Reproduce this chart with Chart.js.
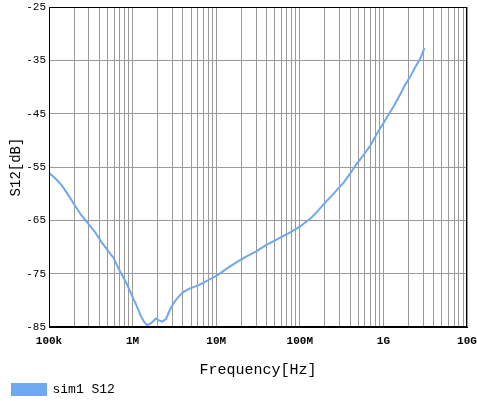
<!DOCTYPE html>
<html>
<head>
<meta charset="utf-8">
<script src="https://cdn.jsdelivr.net/npm/chart.js@4"></script>
<style>
html,body{margin:0;padding:0;background:#fff;}
canvas{display:block;}
</style>
</head>
<body>
<canvas id="c" width="477" height="401"></canvas>
<script>
// ---- data ----
const seriesName = 'sim1 S12';
const freqHz = [
  100000, 120200, 141300, 166000, 199500, 239900, 295100, 354800, 416900, 501200,
  588800, 707900, 851100, 1000000, 1122000, 1259000, 1380000, 1479000,
  1585000, 1738000, 1905000, 2089000, 2265000, 2512000, 2754000, 3090000, 3548000,
  4074000, 4786000, 5888000, 7079000, 8511000, 10000000, 11220000, 13490000, 15850000, 19050000,
  23990000, 30200000, 33110000, 39810000, 50120000, 57540000, 75860000, 100000000, 120200000, 131800000,
  158500000, 208900000, 251200000, 288400000, 331100000, 398100000, 478600000, 575400000, 691800000, 831800000,
  1000000000, 1096000000, 1318000000, 1585000000, 1820000000, 2089000000, 2399000000, 2754000000, 3090000000
];
const s12dB = [
  -56.1, -57.2, -58.4, -60.0, -62.0, -63.9, -65.6, -67.2, -68.9, -70.6,
  -72.0, -74.6, -76.9, -79.4, -81.1, -83.0, -84.1, -84.6,
  -84.5, -84.0, -83.4, -83.8, -84.0, -83.5, -82.0, -80.5, -79.3,
  -78.4, -77.8, -77.3, -76.7, -76.0, -75.4, -74.9, -74.0, -73.3, -72.5,
  -71.6, -70.8, -70.4, -69.6, -68.8, -68.3, -67.3, -66.2, -65.2, -64.8,
  -63.5, -61.4, -60.1, -59.0, -58.0, -56.3, -54.4, -52.8, -51.1, -48.8,
  -46.8, -45.7, -43.7, -41.4, -39.6, -38.1, -36.3, -34.7, -32.7
];
const xDecades = [1e5, 1e6, 1e7, 1e8, 1e9, 1e10];
const xDecadeLabels = ['100k', '1M', '10M', '100M', '1G', '10G'];
const yTickValues = [-85, -75, -65, -55, -45, -35, -25];
const xTitle = 'Frequency[Hz]';
const yTitle = 'S12[dB]';

const FONT = "'Liberation Mono', 'DejaVu Sans Mono', monospace";
const GRID = '#9a9a9a';

const framePlugin = {
  id: 'frame',
  afterDatasetsDraw(chart) {
    const a = chart.chartArea, ctx = chart.ctx;
    ctx.save();
    ctx.strokeStyle = '#000';
    ctx.lineWidth = 1;
    ctx.strokeRect(Math.round(a.left) + 0.5, Math.round(a.top) + 0.5,
      Math.round(a.right - a.left) - 1, Math.round(a.bottom - a.top) - 1);
    ctx.restore();
  }
};

new Chart(document.getElementById('c'), {
  type: 'line',
  data: {
    datasets: [{
      label: seriesName,
      data: freqHz.map((f, i) => ({x: f, y: s12dB[i]})),
      borderColor: '#6ea8ee',
      backgroundColor: '#6ea8ee',
      borderWidth: 2,
      pointRadius: 0,
      tension: 0,
      fill: false
    }]
  },
  options: {
    responsive: false,
    animation: false,
    layout: {padding: {top: 7, right: 10, left: 8, bottom: -5}},
    plugins: {
      legend: {
        position: 'bottom',
        align: 'start',
        labels: {
          boxWidth: 34, boxHeight: 11, padding: 4,
          color: '#000',
          font: {family: FONT, size: 13}
        }
      },
      tooltip: {enabled: false}
    },
    scales: {
      x: {
        type: 'logarithmic',
        min: 1e5, max: 1e10,
        afterBuildTicks(scale) {
          const t = [];
          xDecades.forEach((d, i) => {
            const last = i === xDecades.length - 1;
            for (let m = 1; m <= (last ? 1 : 9); m++) t.push({value: d * m});
          });
          scale.ticks = t;
        },
        afterFit(scale) { scale.height = 52; scale.paddingLeft = 0; scale.paddingRight = 0; },
        ticks: {
          autoSkip: false, maxRotation: 0, padding: 8, color: '#000',
          font: {family: FONT, size: 11, weight: 'bold'},
          callback(v) {
            const i = xDecades.findIndex(d => Math.abs(d - v) / d < 1e-6);
            return i >= 0 ? xDecadeLabels[i] : '';
          }
        },
        grid: {color: GRID, lineWidth: 1, drawTicks: false},
        border: {color: '#000', width: 1},
        title: {display: true, text: xTitle, color: '#000', font: {family: FONT, size: 15}, padding: 0}
      },
      y: {
        min: -85, max: -25,
        afterBuildTicks(scale) { scale.ticks = yTickValues.map(v => ({value: v})); },
        afterFit(scale) { scale.width = 41; scale.paddingTop = 0; scale.paddingBottom = 0; },
        ticks: {padding: 3, color: '#000', font: {family: FONT, size: 11}},
        grid: {color: GRID, lineWidth: 1, drawTicks: false},
        border: {color: '#000', width: 1},
        title: {display: true, text: yTitle, color: '#000', font: {family: FONT, size: 14}, padding: 0}
      }
    }
  },
  plugins: [framePlugin]
});
</script>
</body>
</html>
